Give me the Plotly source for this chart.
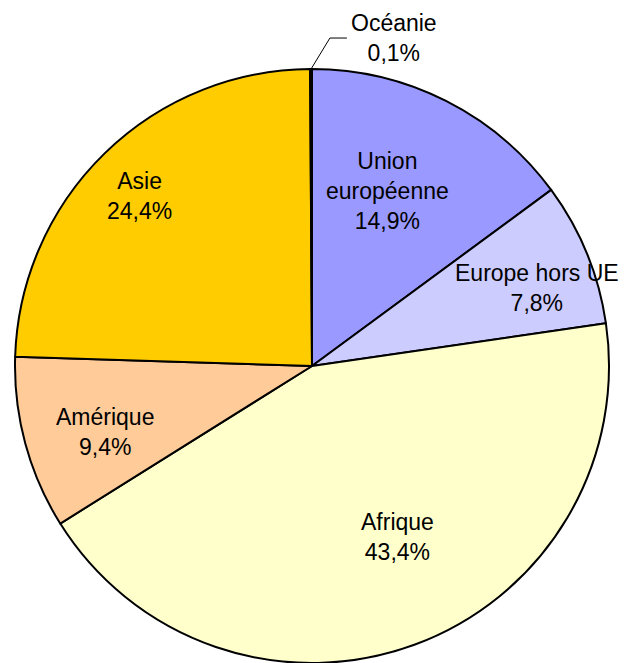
import math
import plotly.graph_objects as go

# ---- data ----
categories = ["Union européenne", "Europe hors UE", "Afrique", "Amérique", "Asie", "Océanie"]
display_labels = ["Union<br>européenne", "Europe hors UE", "Afrique", "Amérique", "Asie", "Océanie"]
values = [14.9, 7.8, 43.4, 9.4, 24.4, 0.1]

# ---- style ----
colors = ["#9999FF", "#CCCCFF", "#FFFFCC", "#FFCC99", "#FFCC00", "#3366FF"]
# label placement: fraction of radius and angular offset (deg) from slice middle
label_rfrac = [0.643, 0.806, 0.647, 0.735, 0.818, 1.142]
label_dang = [-3.6, 3.2, -6.5, -2.5, -1.0, 14.2]
FONT = "Liberation Sans, Arial, sans-serif"
FS = 23

# page body has an 8px margin: figure occupies the rest of the window
W, H = 619, 655
cx, cy, R = 304, 358, 297

fig = go.Figure(go.Pie(
    labels=categories,
    values=values,
    sort=False,
    direction="clockwise",
    rotation=0,
    textinfo="none",
    hoverinfo="skip",
    showlegend=False,
    marker=dict(colors=colors, line=dict(color="black", width=2)),
    domain=dict(x=[(cx - R) / W, (cx + R) / W], y=[max(0, (H - cy - R) / H), (H - cy + R) / H]),
))

def to_paper(px, py):
    return px / W, (H - py) / H

total = sum(values)
cum = 0.0
annotations = []
shapes = []
for i, v in enumerate(values):
    mid = (cum + v / 2) / total * 360.0
    cum += v
    a = math.radians(mid + label_dang[i])
    r = label_rfrac[i] * 296
    px = cx + r * math.sin(a)
    py = cy - r * math.cos(a)
    x, y = to_paper(px, py)
    pct = f"{v:.1f}".replace(".", ",") + "%"
    annotations.append(dict(
        x=x, y=y, xref="paper", yref="paper",
        text=f"{display_labels[i]}<br>{pct}",
        showarrow=False, xanchor="center", yanchor="middle",
        font=dict(family=FONT, size=FS, color="black"),
    ))
    if label_rfrac[i] > 1:
        # leader line from slice edge to label
        am = math.radians(mid)
        tx, ty = cx + R * math.sin(am), cy - R * math.cos(am)
        ex, ey = px - 64, py
        fx, fy = px - 47, py
        p = [to_paper(tx, ty), to_paper(ex, ey), to_paper(fx, fy)]
        shapes.append(dict(
            type="path", xref="paper", yref="paper",
            path=f"M {p[0][0]},{p[0][1]} L {p[1][0]},{p[1][1]} L {p[2][0]},{p[2][1]}",
            line=dict(color="black", width=1),
        ))

fig.update_layout(
    width=W, height=H,
    margin=dict(l=0, r=0, t=0, b=0),
    paper_bgcolor="white",
    plot_bgcolor="white",
    annotations=annotations,
    shapes=shapes,
)

fig.write_html("out.html")
